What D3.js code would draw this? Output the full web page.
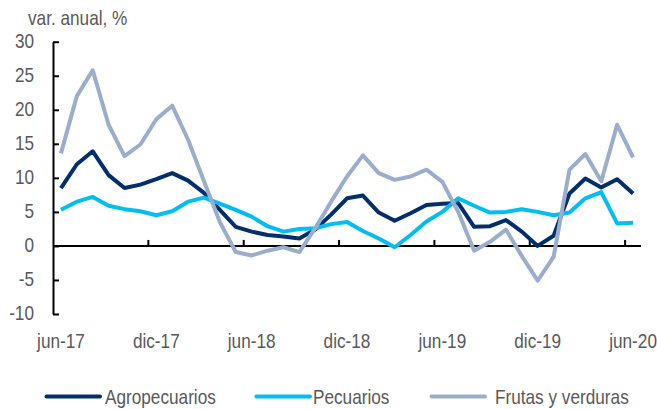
<!DOCTYPE html>
<html>
<head>
<meta charset="utf-8">
<script src="https://cdn.jsdelivr.net/npm/d3@7"></script>
<style>
  html, body { margin: 0; padding: 0; background: #fff; }
  svg { display: block; }
  text { font-family: "Liberation Sans", Arial, sans-serif; fill: #595959; }
</style>
</head>
<body>
<svg id="chart" width="657" height="409"></svg>
<script>
const months = ["jun-17","jul-17","ago-17","sep-17","oct-17","nov-17","dic-17","ene-18","feb-18","mar-18","abr-18","may-18",
  "jun-18","jul-18","ago-18","sep-18","oct-18","nov-18","dic-18","ene-19","feb-19","mar-19","abr-19","may-19",
  "jun-19","jul-19","ago-19","sep-19","oct-19","nov-19","dic-19","ene-20","feb-20","mar-20","abr-20","may-20","jun-20"];

const agropecuarios = [8.5, 12.0, 13.9, 10.4, 8.5, 9.0, 9.8, 10.7, 9.6, 7.8, 5.3, 2.8, 2.1, 1.6, 1.4, 1.1, 2.4, 4.6, 7.0, 7.4,
  4.9, 3.7, 4.8, 6.0, 6.2, 6.3, 2.8, 2.9, 3.8, 2.1, 0.0, 1.5, 7.7, 9.9, 8.6, 9.8, 7.7];
const pecuarios = [5.3, 6.5, 7.2, 5.9, 5.4, 5.1, 4.5, 5.1, 6.5, 7.1, 6.2, 5.3, 4.3, 2.9, 2.1, 2.5, 2.6, 3.2, 3.5, 2.2,
  1.1, -0.2, 1.6, 3.6, 5.0, 7.0, 5.9, 4.9, 5.0, 5.4, 5.0, 4.5, 4.9, 7.0, 7.9, 3.3, 3.4];
const frutasVerduras = [13.6, 22.0, 25.8, 17.8, 13.2, 14.9, 18.6, 20.6, 15.6, 9.5, 3.5, -0.9, -1.4, -0.7, -0.2, -0.9, 2.6, 6.5, 10.2, 13.3,
  10.7, 9.7, 10.2, 11.2, 9.4, 5.0, -0.7, 0.6, 2.4, -1.5, -5.1, -1.6, 11.2, 13.5, 9.5, 17.8, 13.0];

const yTicks = [-10, -5, 0, 5, 10, 15, 20, 25, 30];
const xLabelMonths = ["jun-17","dic-17","jun-18","dic-18","jun-19","dic-19","jun-20"];
const seriesNames = ["Agropecuarios", "Pecuarios", "Frutas y verduras"];
const seriesColors = ["#002f6c", "#00bef2", "#9aaecb"];
const seriesData = [agropecuarios, pecuarios, frutasVerduras];

const svg = d3.select("#chart");
const plotLeft = 53, plotRight = 641, plotTop = 41.7, plotBottom = 314;
const FS = 20, SX = 0.86;

function narrowText(parent, px, py, str, anchor) {
  return parent.append("text")
    .attr("transform", `translate(${px},${py}) scale(${SX},1)`)
    .attr("text-anchor", anchor || "start")
    .attr("font-size", FS)
    .text(str);
}

const x = d3.scaleBand().domain(months).range([plotLeft, plotRight]).paddingInner(0).paddingOuter(0);
const y = d3.scaleLinear().domain([-10, 30]).range([plotBottom, plotTop]);

// title
narrowText(svg, 28, 25, "var. anual, %");

// y axis
const yAxis = d3.axisLeft(y).tickValues(yTicks).tickSizeInner(-6).tickSizeOuter(0).tickPadding(19).tickFormat(d => String(d));
const gy = svg.append("g").attr("transform", `translate(${plotLeft},0)`).call(yAxis);
gy.attr("font-family", null).attr("font-size", null);
gy.select(".domain").attr("stroke", "#000").attr("stroke-width", 2);
gy.selectAll(".tick line").attr("stroke", "#000").attr("stroke-width", 2);
gy.selectAll(".tick text")
  .attr("x", null).attr("dy", "0.28em")
  .attr("transform", `translate(-19,0) scale(${SX},1)`)
  .attr("font-size", FS).attr("fill", "#595959");

// x axis at zero
const y0 = y(0);
svg.append("line").attr("x1", plotLeft).attr("x2", plotRight).attr("y1", y0).attr("y2", y0)
  .attr("stroke", "#000").attr("stroke-width", 2);
const tickMonths = xLabelMonths.slice(1);
svg.selectAll(".xtick").data(tickMonths).enter().append("line")
  .attr("x1", d => x(d)).attr("x2", d => x(d))
  .attr("y1", y0).attr("y2", y0 - 6)
  .attr("stroke", "#000").attr("stroke-width", 2);
xLabelMonths.forEach(m => narrowText(svg, x(m) + x.bandwidth() / 2, 347.5, m, "middle"));

// lines
const line = d3.line().x((d, i) => x(months[i]) + x.bandwidth() / 2).y(d => y(d));
seriesData.forEach((s, k) => {
  svg.append("path").datum(s).attr("d", line).attr("fill", "none")
    .attr("stroke", seriesColors[k]).attr("stroke-width", 4)
    .attr("stroke-linejoin", "round");
});

// legend
const legX = [[46.5, 100, 105], [256.5, 310, 313], [431.5, 485, 495]];
seriesNames.forEach((n, k) => {
  svg.append("line").attr("x1", legX[k][0]).attr("x2", legX[k][1]).attr("y1", 396.5).attr("y2", 396.5)
    .attr("stroke", seriesColors[k]).attr("stroke-width", 4).attr("stroke-linecap", "round");
  narrowText(svg, legX[k][2], 403.5, n);
});
</script>
</body>
</html>
